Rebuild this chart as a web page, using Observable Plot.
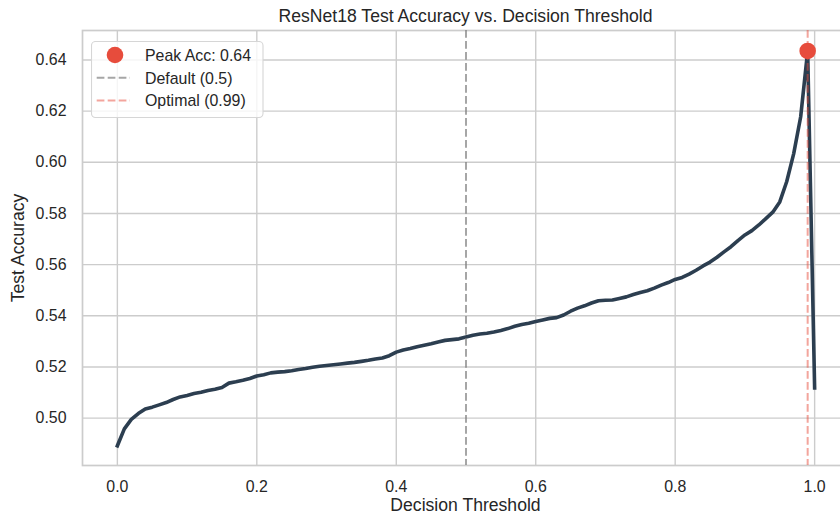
<!DOCTYPE html>
<html>
<head>
<meta charset="utf-8">
<script src="https://cdn.jsdelivr.net/npm/d3@7"></script>
<script src="https://cdn.jsdelivr.net/npm/@observablehq/plot@0.6"></script>
<style>
  html, body { margin: 0; padding: 0; overflow: hidden; background: #fff; }
  #fig { position: relative; width: 840px; height: 516px; overflow: hidden;
         font-family: "Liberation Sans", Arial, sans-serif; color: #262626; }
  #fig .txt { position: absolute; white-space: nowrap; line-height: 1; }
  #title { left: 465.5px; top: 8.4px; font-size: 17.6px; transform: translateX(-50%); }
  #xlabel { left: 465.5px; top: 497.2px; font-size: 17.6px; line-height: 14px; transform: translateX(-50%); }
  #ylabel { left: 18.5px; top: 247.5px; font-size: 17.6px; transform: translate(-50%, -50%) rotate(-90deg); }
  #legend { position: absolute; left: 91px; top: 41px; }
  #chart { position: absolute; left: 0; top: 0; width: 858px; }
  #chart svg { max-width: none !important; }
</style>
</head>
<body>
<div id="fig">
  <div id="chart"></div>
  <div class="txt" id="title"></div>
  <div class="txt" id="xlabel"></div>
  <div class="txt" id="ylabel"></div>
  <div id="legend"></div>
</div>
<script>
// Decision thresholds swept on the test set
const thresholds = [
  0.00, 0.01, 0.02, 0.03, 0.04, 0.05, 0.06, 0.07, 0.08, 0.09,
  0.10, 0.11, 0.12, 0.13, 0.14, 0.15, 0.16, 0.17, 0.18, 0.19,
  0.20, 0.21, 0.22, 0.23, 0.24, 0.25, 0.26, 0.27, 0.28, 0.29,
  0.30, 0.31, 0.32, 0.33, 0.34, 0.35, 0.36, 0.37, 0.38, 0.39,
  0.40, 0.41, 0.42, 0.43, 0.44, 0.45, 0.46, 0.47, 0.48, 0.49,
  0.50, 0.51, 0.52, 0.53, 0.54, 0.55, 0.56, 0.57, 0.58, 0.59,
  0.60, 0.61, 0.62, 0.63, 0.64, 0.65, 0.66, 0.67, 0.68, 0.69,
  0.70, 0.71, 0.72, 0.73, 0.74, 0.75, 0.76, 0.77, 0.78, 0.79,
  0.80, 0.81, 0.82, 0.83, 0.84, 0.85, 0.86, 0.87, 0.88, 0.89,
  0.90, 0.91, 0.92, 0.93, 0.94, 0.95, 0.96, 0.97, 0.98, 0.99,
  1.00
];

// ResNet18 test accuracy at each threshold
const accuracy = [
  0.4892, 0.4958, 0.4995, 0.5018, 0.5036, 0.5043, 0.5052, 0.5061, 0.5073, 0.5083,
  0.5089, 0.5096, 0.5101, 0.5108, 0.5113, 0.5120, 0.5137, 0.5142, 0.5148, 0.5155,
  0.5165, 0.5170, 0.5177, 0.5180, 0.5182, 0.5185, 0.5190, 0.5194, 0.5199, 0.5203,
  0.5206, 0.5209, 0.5212, 0.5215, 0.5218, 0.5222, 0.5226, 0.5231, 0.5235, 0.5244,
  0.5258, 0.5266, 0.5272, 0.5279, 0.5285, 0.5291, 0.5298, 0.5304, 0.5307, 0.5310,
  0.5317, 0.5324, 0.5329, 0.5332, 0.5337, 0.5343, 0.5350, 0.5359, 0.5366, 0.5371,
  0.5378, 0.5384, 0.5390, 0.5393, 0.5403, 0.5418, 0.5430, 0.5439, 0.5450, 0.5459,
  0.5461, 0.5462, 0.5468, 0.5474, 0.5483, 0.5491, 0.5498, 0.5508, 0.5520, 0.5530,
  0.5542, 0.5550, 0.5563, 0.5578, 0.5595, 0.5610, 0.5629, 0.5650, 0.5670, 0.5694,
  0.5716, 0.5733, 0.5755, 0.5780, 0.5805, 0.5845, 0.5925, 0.6034, 0.6178, 0.6435,
  0.5118
];

const defaultThreshold = 0.5;
const optimalThreshold = 0.99;

const xTicks = [0.0, 0.2, 0.4, 0.6, 0.8, 1.0];
const yTicks = [0.50, 0.52, 0.54, 0.56, 0.58, 0.60, 0.62, 0.64];

const titleText = "ResNet18 Test Accuracy vs. Decision Threshold";
const xLabelText = "Decision Threshold";
const yLabelText = "Test Accuracy";

const lineColor = "#2c3e50";
const peakColor = "#e74c3c";
const gridColor = "#cccccc";

const rows = thresholds.map((t, i) => ({t, acc: accuracy[i]}));
const peakIndex = d3.maxIndex(accuracy);
const peak = rows[peakIndex];

const dash = "7.7,3.3";
const tickFont = 15.9;

const chart = Plot.plot({
  width: 858,
  height: 516,
  marginTop: 30,
  marginBottom: 51,
  marginLeft: 82,
  marginRight: 9,
  style: {fontFamily: '"Liberation Sans", Arial, sans-serif', color: "#262626",
          background: "#fff", maxWidth: "none"},
  x: {domain: [-0.05, 1.05]},
  y: {domain: [0.4815, 0.6515]},
  marks: [
    Plot.gridX(xTicks, {stroke: gridColor, strokeOpacity: 1, strokeWidth: 1.4}),
    Plot.gridY(yTicks, {stroke: gridColor, strokeOpacity: 1, strokeWidth: 1.4}),
    Plot.frame({stroke: gridColor, strokeWidth: 1.7}),
    Plot.axisX(xTicks, {tickSize: 0, tickPadding: 15, tickFormat: d3.format(".1f"), label: null, fontSize: tickFont}),
    Plot.axisY(yTicks, {tickSize: 0, tickPadding: 16, tickFormat: d3.format(".2f"), label: null, fontSize: tickFont}),
    Plot.line(rows, {x: "t", y: "acc", stroke: lineColor, strokeWidth: 3.6,
                     strokeLinejoin: "round", strokeLinecap: "square"}),
    Plot.ruleX([defaultThreshold], {stroke: "#808080", strokeOpacity: 0.7, strokeWidth: 2, strokeDasharray: dash}),
    Plot.ruleX([optimalThreshold], {stroke: peakColor, strokeOpacity: 0.5, strokeWidth: 2, strokeDasharray: dash}),
    Plot.dot([peak], {x: "t", y: "acc", r: 8.3, fill: peakColor, stroke: "none"})
  ]
});
document.getElementById("chart").appendChild(chart);

document.getElementById("title").textContent = titleText;
document.getElementById("xlabel").textContent = xLabelText;
document.getElementById("ylabel").textContent = yLabelText;

// Legend box in the upper-left corner of the axes
const legendItems = [
  {kind: "dot", label: `Peak Acc: ${d3.format(".2f")(peak.acc)}`},
  {kind: "rule", color: "#808080", opacity: 0.7, label: `Default (${defaultThreshold})`},
  {kind: "rule", color: peakColor, opacity: 0.5, label: `Optimal (${optimalThreshold})`}
];
const lg = d3.select("#legend").append("svg").attr("width", 173).attr("height", 78);
lg.append("rect")
  .attr("x", 0.5).attr("y", 0.5).attr("width", 171.5).attr("height", 76)
  .attr("rx", 4).attr("fill", "#fff").attr("fill-opacity", 0.8)
  .attr("stroke", "#d6d6d6").attr("stroke-width", 1.1);
legendItems.forEach((d, i) => {
  const cy = 14 + i * 22.8;
  if (d.kind === "dot") {
    lg.append("circle").attr("cx", 24).attr("cy", cy).attr("r", 8.3).attr("fill", peakColor);
  } else {
    lg.append("line").attr("x1", 5.7).attr("x2", 39).attr("y1", cy).attr("y2", cy)
      .attr("stroke", d.color).attr("stroke-opacity", d.opacity)
      .attr("stroke-width", 2).attr("stroke-dasharray", dash);
  }
  lg.append("text").attr("x", 54).attr("y", cy + 5.7)
    .attr("font-family", '"Liberation Sans", Arial, sans-serif')
    .attr("font-size", tickFont).attr("fill", "#262626").text(d.label);
});
</script>
</body>
</html>
